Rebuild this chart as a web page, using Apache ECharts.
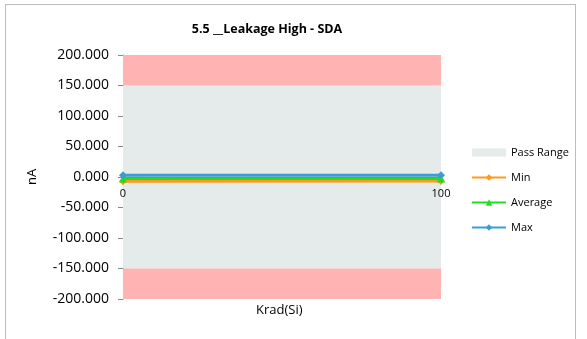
<!DOCTYPE html>
<html><head><meta charset="utf-8">
<script src="https://cdn.jsdelivr.net/npm/echarts@6/dist/echarts.min.js"></script>
<style>
html,body{margin:0;padding:0;background:#fff;}
#frame{position:absolute;left:5px;top:4px;width:571px;height:340px;border:1px solid #bdbdbd;box-sizing:border-box;}
#c{position:absolute;left:0;top:0;width:587px;height:339px;}
</style></head>
<body><div id="frame"></div><div id="c"></div>
<script>
const xValues = [0, 100];
const minValues = [-7, -6.5];
const avgValues = [-2.5, -2.5];
const maxValues = [3, 3];
const passLow = -150, passHigh = 150;
const axisMin = -200, axisMax = 200;

const font = "'Open Sans', 'Liberation Sans', sans-serif";
const chart = echarts.init(document.getElementById('c'), null, {renderer:'canvas'});
function pts(v){ return xValues.map((x,i)=>[x,v[i]]); }
chart.setOption({
  animation:false,
  textStyle:{fontFamily:font},
  title:{text:'5.5 __Leakage High - SDA', left:262, top:18, textAlign:'center',
    textStyle:{fontSize:12.5, fontWeight:'bold', color:'#000', fontFamily:font}},
  grid:{left:123, right:146, top:55, bottom:40, containLabel:false, outerBoundsMode:'none'},
  legend:{orient:'vertical', left:466, top:142, itemGap:14, itemWidth:34, itemHeight:8,
    textStyle:{fontSize:11, color:'#000', fontFamily:font},
    data:[{name:'Pass Range', icon:'rect'}, 'Min', 'Average', 'Max']},
  graphic:[{type:'text', left:256, top:304, style:{text:'Krad(Si)', fill:'#000', font:"13px 'Open Sans', sans-serif"}}],
  xAxis:{type:'value', min:0, max:100, interval:100, z:20,
    axisLine:{onZero:true, lineStyle:{color:'#888'}},
    axisTick:{show:true, length:6, lineStyle:{color:'#888'}},
    axisLabel:{fontSize:11, color:'#000', margin:11},
    splitLine:{show:false}},
  yAxis:{type:'value', min:axisMin, max:axisMax, interval:50, name:'nA', nameLocation:'middle', nameGap:84,
    nameTextStyle:{fontSize:13, color:'#000'},
    axisLine:{show:true, onZero:false, lineStyle:{color:'#888'}},
    axisTick:{show:true, length:5, lineStyle:{color:'#888'}},
    axisLabel:{fontSize:14, color:'#000', margin:14, formatter:v=>v.toFixed(3)},
    splitLine:{show:false}},
  series:[
    {name:'Pass Range', type:'line', data:[], itemStyle:{color:'#e5eaea'}, lineStyle:{color:'#e5eaea'},
      markArea:{silent:true, data:[
        [{yAxis:passLow, itemStyle:{color:'#e5eaea'}},{yAxis:passHigh}],
        [{yAxis:passHigh, itemStyle:{color:'#ffb3b3'}},{yAxis:axisMax}],
        [{yAxis:axisMin, itemStyle:{color:'#ffb3b3'}},{yAxis:passLow}]
      ]}, z:1},
    {name:'Min', type:'line', data:pts(minValues), symbol:'diamond', symbolSize:8,
      itemStyle:{color:'#ff9a1a'}, lineStyle:{width:3, color:'#ff9a1a'}, z:3},
    {name:'Average', type:'line', data:pts(avgValues), symbol:'triangle', symbolSize:8,
      itemStyle:{color:'#1ee01e'}, lineStyle:{width:3, color:'#1ee01e'}, z:4},
    {name:'Max', type:'line', data:pts(maxValues), symbol:'diamond', symbolSize:8,
      itemStyle:{color:'#3d9bd3'}, lineStyle:{width:3, color:'#3d9bd3'}, z:5}
  ]
});
// place the x axis on the y=0 line using the library's own scale
const zeroY = chart.convertToPixel({yAxisIndex:0}, 0);
const bottomY = chart.convertToPixel({yAxisIndex:0}, axisMin);
chart.setOption({xAxis:{axisLine:{onZero:false}, offset: zeroY - bottomY}});
</script></body></html>
